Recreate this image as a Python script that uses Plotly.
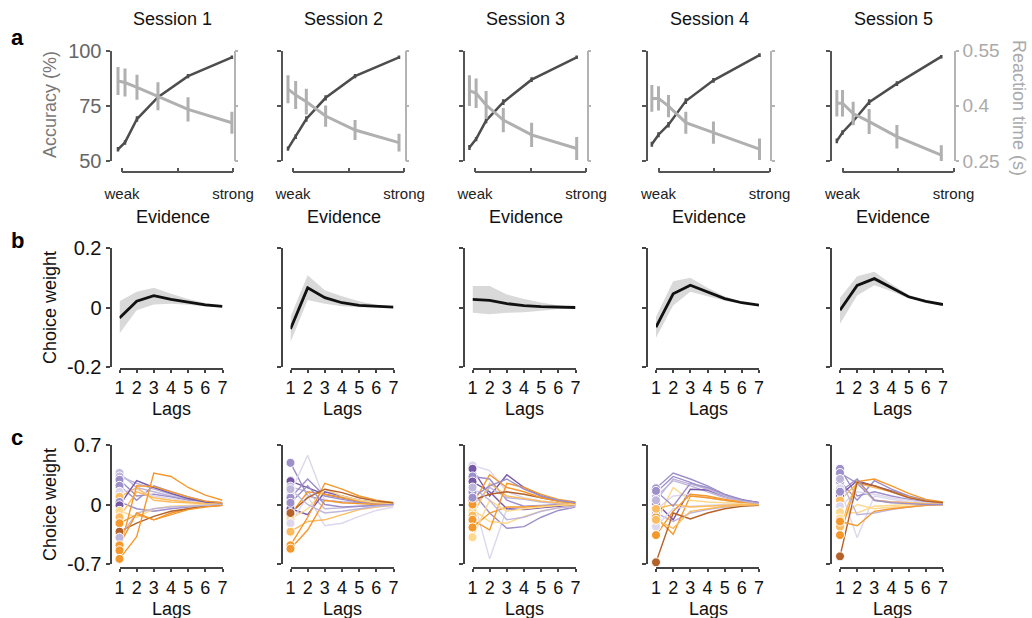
import plotly.graph_objects as go

W, H = 1032, 618
FONT = "Liberation Sans, Arial, Helvetica, sans-serif"

session_titles = ["Session 1", "Session 2", "Session 3", "Session 4", "Session 5"]
evidence_ticks = ["weak", "", "strong"]
lags = [1, 2, 3, 4, 5, 6, 7]

# ---------------- row a: accuracy / reaction time ----------------
evidence_s1 = [-0.036, 0.027, 0.135, 0.324, 0.595, 0.99]
evidence_s2 = [-0.045, 0.024, 0.12, 0.294, 0.559, 0.955]
evidence_s3 = [-0.05, 0.01, 0.10, 0.255, 0.51, 0.916]
evidence_s4 = [-0.06, 0.0, 0.09, 0.246, 0.495, 0.91]
evidence_s5 = [-0.051, 0.0, 0.096, 0.24, 0.49, 0.89]

accuracy_s1 = [55.3, 58.4, 69.0, 78.9, 88.4, 96.9]
accuracy_s2 = [55.6, 61.0, 69.0, 78.6, 88.4, 96.9]
accuracy_s3 = [56.1, 59.9, 68.3, 76.6, 86.8, 96.9]
accuracy_s4 = [57.6, 61.9, 66.4, 77.1, 86.5, 97.9]
accuracy_s5 = [59.1, 62.9, 68.0, 76.6, 85.0, 97.2]

accuracy_err_s1 = [1.0, 1.0, 1.2, 1.2, 1.0, 0.8]
accuracy_err_s2 = [1.0, 1.0, 1.2, 1.2, 1.0, 0.8]
accuracy_err_s3 = [1.1, 1.0, 1.2, 1.3, 1.1, 0.8]
accuracy_err_s4 = [1.1, 1.1, 1.2, 1.3, 1.1, 0.8]
accuracy_err_s5 = [1.1, 1.0, 1.2, 1.3, 1.1, 0.8]

rt_s1 = [0.467, 0.463, 0.450, 0.426, 0.390, 0.354]
rt_s2 = [0.445, 0.429, 0.411, 0.372, 0.334, 0.300]
rt_s3 = [0.441, 0.434, 0.402, 0.361, 0.321, 0.284]
rt_s4 = [0.420, 0.420, 0.399, 0.354, 0.327, 0.282]
rt_s5 = [0.407, 0.407, 0.379, 0.357, 0.316, 0.266]

rt_err_s1 = [0.038, 0.038, 0.034, 0.038, 0.033, 0.030]
rt_err_s2 = [0.038, 0.038, 0.035, 0.029, 0.027, 0.024]
rt_err_s3 = [0.042, 0.040, 0.038, 0.033, 0.033, 0.031]
rt_err_s4 = [0.036, 0.033, 0.030, 0.030, 0.030, 0.029]
rt_err_s5 = [0.036, 0.036, 0.032, 0.034, 0.032, 0.027]

# ---------------- row b: mean choice kernels ----------------
kernel_mean_s1 = [-0.034, 0.022, 0.041, 0.028, 0.019, 0.010, 0.005]
kernel_mean_s2 = [-0.071, 0.067, 0.034, 0.017, 0.008, 0.004, 0.002]
kernel_mean_s3 = [0.028, 0.025, 0.014, 0.007, 0.004, 0.002, 0.001]
kernel_mean_s4 = [-0.065, 0.047, 0.076, 0.054, 0.031, 0.017, 0.009]
kernel_mean_s5 = [-0.008, 0.075, 0.098, 0.067, 0.037, 0.022, 0.011]

kernel_lo_s1 = [-0.086, -0.008, 0.011, 0.014, 0.010, 0.004, 0.002]
kernel_lo_s2 = [-0.116, 0.026, 0.014, 0.005, 0.002, 0.0, 0.0]
kernel_lo_s3 = [-0.017, -0.022, -0.017, -0.015, -0.010, -0.004, -0.001]
kernel_lo_s4 = [-0.101, 0.008, 0.054, 0.039, 0.024, 0.013, 0.006]
kernel_lo_s5 = [-0.054, 0.041, 0.076, 0.056, 0.031, 0.019, 0.009]

kernel_hi_s1 = [0.022, 0.054, 0.067, 0.047, 0.030, 0.016, 0.008]
kernel_hi_s2 = [-0.030, 0.109, 0.059, 0.039, 0.022, 0.010, 0.004]
kernel_hi_s3 = [0.073, 0.073, 0.045, 0.030, 0.018, 0.008, 0.003]
kernel_hi_s4 = [-0.030, 0.089, 0.101, 0.067, 0.038, 0.021, 0.012]
kernel_hi_s5 = [0.034, 0.106, 0.121, 0.080, 0.043, 0.025, 0.013]

# ---------------- row c: individual choice kernels ----------------
palette = {
    "dp": "#7758a6", "mp": "#9d8fc9", "lp": "#bfb6dc", "vp": "#dcd7ed",
    "or": "#f5982c", "lo": "#fbbb5e", "pa": "#fdd88d", "br": "#b5622a",
}

indiv_col_s1 = ["lp", "lp", "mp", "mp", "vp", "lo", "mp", "dp", "pa", "lo", "or", "br", "lp", "or", "or", "or"]
indiv_w_s1 = [
    [0.37, 0.20, 0.15, 0.10, 0.06, 0.03, 0.01],
    [0.33, 0.25, 0.18, 0.12, 0.07, 0.03, 0.01],
    [0.29, 0.10, 0.12, 0.09, 0.05, 0.02, 0.01],
    [0.22, 0.05, 0.22, 0.15, 0.09, 0.04, 0.02],
    [0.15, 0.18, 0.10, 0.07, 0.04, 0.02, 0.01],
    [0.09, 0.20, 0.05, 0.03, 0.02, 0.01, 0.0],
    [0.03, -0.05, -0.08, -0.05, -0.03, -0.01, 0.0],
    [-0.01, 0.28, 0.20, 0.13, 0.07, 0.03, 0.01],
    [-0.075, -0.15, -0.05, -0.02, -0.01, 0.0, 0.0],
    [-0.15, 0.15, 0.08, 0.05, 0.03, 0.01, 0.0],
    [-0.22, -0.12, -0.18, -0.10, -0.05, -0.02, -0.01],
    [-0.32, -0.22, -0.14, -0.08, -0.05, -0.02, -0.01],
    [-0.39, -0.10, -0.05, -0.03, -0.02, -0.01, 0.0],
    [-0.48, -0.10, -0.18, -0.12, -0.06, -0.03, -0.01],
    [-0.54, 0.22, 0.21, 0.15, 0.09, 0.04, 0.02],
    [-0.64, -0.38, 0.37, 0.33, 0.20, 0.11, 0.05],
]

indiv_col_s2 = ["mp", "dp", "lp", "vp", "mp", "dp", "or", "pa", "vp", "lo", "or", "or", "br", "mp", "lp"]
indiv_w_s2 = [
    [0.49, 0.10, 0.05, 0.03, 0.02, 0.01, 0.0],
    [0.275, 0.20, 0.12, 0.08, 0.04, 0.02, 0.01],
    [0.21, 0.15, -0.05, -0.04, -0.02, -0.01, 0.0],
    [0.14, 0.58, 0.05, 0.02, 0.01, 0.0, 0.0],
    [0.08, 0.30, 0.10, 0.06, 0.03, 0.01, 0.0],
    [-0.05, -0.12, 0.15, 0.10, 0.05, 0.02, 0.01],
    [-0.12, 0.15, 0.12, 0.08, 0.04, 0.02, 0.01],
    [-0.17, -0.05, 0.18, 0.10, 0.05, 0.02, 0.01],
    [-0.22, 0.10, -0.25, -0.22, -0.14, -0.07, -0.03],
    [-0.32, -0.20, -0.18, -0.12, -0.06, -0.03, -0.01],
    [-0.48, -0.15, 0.25, 0.18, 0.10, 0.05, 0.02],
    [-0.52, -0.30, 0.05, 0.02, 0.01, 0.0, 0.0],
    [-0.10, 0.08, 0.18, 0.14, 0.08, 0.04, 0.02],
    [0.02, 0.22, 0.0, -0.03, -0.02, -0.01, 0.0],
    [0.18, 0.0, -0.10, -0.08, -0.05, -0.02, -0.01],
]

indiv_col_s3 = ["vp", "dp", "mp", "vp", "dp", "mp", "lp", "pa", "lo", "or", "or", "pa", "br", "or", "lp", "mp"]
indiv_w_s3 = [
    [0.46, 0.40, 0.15, 0.08, 0.04, 0.02, 0.01],
    [0.42, 0.10, 0.35, 0.20, 0.10, 0.05, 0.02],
    [0.33, 0.30, 0.05, -0.02, -0.01, 0.0, 0.0],
    [0.10, -0.64, -0.05, -0.03, -0.02, -0.01, 0.0],
    [0.27, 0.15, -0.05, -0.06, -0.04, -0.02, -0.01],
    [0.15, -0.10, -0.28, -0.26, -0.15, -0.07, -0.03],
    [-0.02, 0.20, 0.08, 0.06, 0.03, 0.01, 0.0],
    [-0.06, -0.20, -0.22, -0.14, -0.08, -0.04, -0.02],
    [-0.13, 0.25, 0.10, 0.07, 0.04, 0.02, 0.01],
    [-0.18, -0.30, 0.25, 0.20, 0.12, 0.06, 0.03],
    [-0.27, -0.10, -0.03, -0.03, -0.02, -0.01, 0.0],
    [-0.385, 0.05, -0.08, -0.05, -0.03, -0.01, 0.0],
    [0.05, 0.12, 0.15, 0.12, 0.08, 0.04, 0.02],
    [0.0, 0.35, 0.20, 0.15, 0.08, 0.04, 0.02],
    [0.20, 0.05, -0.18, -0.15, -0.08, -0.04, -0.02],
    [0.08, 0.22, 0.30, 0.18, 0.10, 0.05, 0.02],
]

indiv_col_s4 = ["mp", "mp", "lp", "dp", "vp", "lp", "or", "pa", "vp", "or", "br", "lo", "mp", "lo", "lp"]
indiv_w_s4 = [
    [0.19, 0.37, 0.30, 0.22, 0.12, 0.06, 0.02],
    [0.14, 0.33, 0.26, 0.18, 0.10, 0.05, 0.02],
    [0.09, 0.28, 0.22, 0.15, 0.08, 0.04, 0.01],
    [0.02, -0.18, 0.18, 0.17, 0.10, 0.05, 0.02],
    [-0.06, 0.10, 0.12, 0.08, 0.05, 0.02, 0.01],
    [-0.10, -0.20, -0.10, -0.06, -0.03, -0.01, 0.0],
    [-0.15, -0.35, 0.10, 0.08, 0.05, 0.02, 0.01],
    [-0.21, 0.20, 0.05, 0.03, 0.02, 0.01, 0.0],
    [-0.26, -0.05, -0.02, -0.01, 0.0, 0.0, 0.0],
    [-0.36, -0.08, 0.12, 0.10, 0.06, 0.03, 0.01],
    [-0.68, -0.10, -0.17, -0.10, -0.05, -0.02, -0.01],
    [-0.05, 0.0, -0.03, -0.02, -0.01, 0.0, 0.0],
    [0.16, -0.02, 0.25, 0.20, 0.12, 0.05, 0.02],
    [-0.18, -0.28, -0.08, -0.05, -0.02, -0.01, 0.0],
    [0.05, 0.30, 0.24, 0.18, 0.10, 0.04, 0.01],
]

indiv_col_s5 = ["mp", "mp", "mp", "vp", "dp", "lo", "vp", "pa", "pa", "lo", "or", "br", "lp", "or", "mp"]
indiv_w_s5 = [
    [0.42, 0.10, 0.15, 0.10, 0.06, 0.03, 0.01],
    [0.37, 0.25, 0.05, 0.03, 0.02, 0.01, 0.0],
    [0.27, 0.05, 0.28, 0.18, 0.10, 0.05, 0.02],
    [0.19, -0.39, 0.10, 0.06, 0.03, 0.01, 0.0],
    [0.11, 0.28, 0.22, 0.16, 0.09, 0.04, 0.02],
    [0.05, 0.25, 0.20, 0.15, 0.09, 0.04, 0.02],
    [-0.02, 0.15, 0.12, 0.08, 0.05, 0.02, 0.01],
    [-0.09, -0.10, -0.02, -0.01, 0.0, 0.0, 0.0],
    [-0.165, 0.0, -0.05, -0.03, -0.02, -0.01, 0.0],
    [-0.26, 0.28, 0.05, 0.03, 0.02, 0.01, 0.0],
    [-0.36, 0.27, 0.30, 0.22, 0.13, 0.06, 0.03],
    [-0.61, 0.26, 0.22, 0.15, 0.08, 0.04, 0.02],
    [0.30, -0.12, -0.10, -0.06, -0.03, -0.01, 0.0],
    [-0.20, -0.25, -0.08, -0.05, -0.03, -0.01, 0.0],
    [0.15, 0.30, 0.05, 0.02, 0.01, 0.0, 0.0],
]

evidence = [evidence_s1, evidence_s2, evidence_s3, evidence_s4, evidence_s5]
accuracy = [accuracy_s1, accuracy_s2, accuracy_s3, accuracy_s4, accuracy_s5]
accuracy_err = [accuracy_err_s1, accuracy_err_s2, accuracy_err_s3, accuracy_err_s4, accuracy_err_s5]
rt = [rt_s1, rt_s2, rt_s3, rt_s4, rt_s5]
rt_err = [rt_err_s1, rt_err_s2, rt_err_s3, rt_err_s4, rt_err_s5]
k_mean = [kernel_mean_s1, kernel_mean_s2, kernel_mean_s3, kernel_mean_s4, kernel_mean_s5]
k_lo = [kernel_lo_s1, kernel_lo_s2, kernel_lo_s3, kernel_lo_s4, kernel_lo_s5]
k_hi = [kernel_hi_s1, kernel_hi_s2, kernel_hi_s3, kernel_hi_s4, kernel_hi_s5]
indiv_w = [indiv_w_s1, indiv_w_s2, indiv_w_s3, indiv_w_s4, indiv_w_s5]
indiv_col = [indiv_col_s1, indiv_col_s2, indiv_col_s3, indiv_col_s4, indiv_col_s5]

# ---------------- layout geometry (pixels) ----------------
axis_left = [110.5, 281.5, 463.5, 647.0, 831.0]


def fx(p):
    return p / W


def fy(p):
    return 1 - p / H


def ax_name(kind, n):
    return f"{kind}axis" if n == 1 else f"{kind}axis{n}"


def ref(kind, n):
    return kind if n == 1 else f"{kind}{n}"


ACC_COL = "#4d4d4d"
RT_COL = "#b0b0b0"
AX_COL = "#444444"

fig = go.Figure()
layout = {}
annotations = []
shapes = []

common = dict(showgrid=False, zeroline=False, fixedrange=True, automargin=False)

for i in range(5):
    L = axis_left[i]
    xa, yl, yr = i + 1, i + 1, i + 6
    xb, yb = i + 6, i + 11
    xc, yc = i + 11, i + 16

    # ----- row a -----
    layout[ax_name("x", xa)] = dict(
        domain=[fx(L), fx(L + 124)], range=[-11.5 / 111, 112.5 / 111],
        anchor="free", position=fy(172), showline=False,
        ticks="inside", ticklen=4, tickwidth=2, tickcolor="#555",
        tickvals=[0, 0.5, 1], ticktext=evidence_ticks,
        tickfont=dict(size=15, color="#222", family=FONT), ticklabelstandoff=11, **common)
    layout[ax_name("y", yl)] = dict(
        domain=[fy(161), fy(50.5)], range=[50, 100], anchor="free", position=fx(L),
        showline=True, linecolor="#555", linewidth=2, ticks="outside", ticklen=4,
        tickwidth=2, tickcolor="#555", tickvals=[50, 75, 100], showticklabels=(i == 0),
        tickfont=dict(size=20, color="#666", family=FONT), **common)
    layout[ax_name("y", yr)] = dict(
        range=[0.25, 0.55], overlaying=ref("y", yl), side="right", anchor="free",
        position=fx(L + 124), showline=True, linecolor="#b3b3b3", linewidth=1.5,
        ticks="outside", ticklen=3, tickwidth=1.5, tickcolor="#b3b3b3",
        tickvals=[0.25, 0.4, 0.55], ticktext=["0.25", "0.4", "0.55"],
        showticklabels=(i == 4), tickfont=dict(size=19, color="#aaaaaa", family=FONT), **common)
    shapes.append(dict(type="line", xref=ref("x", xa), yref="paper", x0=0, x1=1,
                       y0=fy(172), y1=fy(172), line=dict(color="#555", width=2)))

    fig.add_trace(go.Scatter(
        x=evidence[i], y=rt[i], mode="lines", xaxis=ref("x", xa), yaxis=ref("y", yr),
        line=dict(color=RT_COL, width=3),
        error_y=dict(type="data", array=rt_err[i], thickness=3, width=0, color=RT_COL),
        showlegend=False, hoverinfo="skip"))
    fig.add_trace(go.Scatter(
        x=evidence[i], y=accuracy[i], mode="lines", xaxis=ref("x", xa), yaxis=ref("y", yl),
        line=dict(color=ACC_COL, width=2.5),
        error_y=dict(type="data", array=accuracy_err[i], thickness=2.5, width=0, color=ACC_COL),
        showlegend=False, hoverinfo="skip"))

    annotations.append(dict(text=session_titles[i], x=fx(L + 62), y=fy(19),
                            font=dict(size=18, color="#111", family=FONT)))
    annotations.append(dict(text="Evidence", x=fx(L + 62), y=fy(217),
                            font=dict(size=18, color="#111", family=FONT)))

    # ----- row b -----
    layout[ax_name("x", xb)] = dict(
        domain=[fx(L + 9), fx(L + 112)], range=[1, 7], anchor="free", position=fy(368.5),
        showline=True, linecolor=AX_COL, linewidth=2, ticks="outside", ticklen=3, tickwidth=2,
        tickcolor=AX_COL, tickvals=lags, tickfont=dict(size=18, color="#111", family=FONT), **common)
    layout[ax_name("y", yb)] = dict(
        domain=[fy(367.3), fy(248.3)], range=[-0.2, 0.2], anchor="free", position=fx(L),
        showline=True, linecolor=AX_COL, linewidth=2, ticks="outside", ticklen=4, tickwidth=2,
        tickcolor=AX_COL, tickvals=[-0.2, 0, 0.2], ticktext=["-0.2", "0", "0.2"],
        showticklabels=(i == 0), tickfont=dict(size=20, color="#111", family=FONT), **common)
    fig.add_trace(go.Scatter(x=lags, y=k_lo[i], mode="lines", line=dict(width=0, color="#d9d9d9"),
                             xaxis=ref("x", xb), yaxis=ref("y", yb), showlegend=False, hoverinfo="skip"))
    fig.add_trace(go.Scatter(x=lags, y=k_hi[i], mode="lines", line=dict(width=0, color="#d9d9d9"),
                             fill="tonexty", fillcolor="#d9d9d9",
                             xaxis=ref("x", xb), yaxis=ref("y", yb), showlegend=False, hoverinfo="skip"))
    fig.add_trace(go.Scatter(x=lags, y=k_mean[i], mode="lines", line=dict(width=2.8, color="#111"),
                             xaxis=ref("x", xb), yaxis=ref("y", yb), showlegend=False, hoverinfo="skip"))
    annotations.append(dict(text="Lags", x=fx(L + 61), y=fy(409),
                            font=dict(size=18, color="#111", family=FONT)))

    # ----- row c -----
    layout[ax_name("x", xc)] = dict(
        domain=[fx(L + 9), fx(L + 112)], range=[1, 7], anchor="free", position=fy(568),
        showline=True, linecolor=AX_COL, linewidth=2, ticks="outside", ticklen=3, tickwidth=2,
        tickcolor=AX_COL, tickvals=lags, tickfont=dict(size=18, color="#111", family=FONT), **common)
    layout[ax_name("y", yc)] = dict(
        domain=[fy(564), fy(445)], range=[-0.7, 0.7], anchor="free", position=fx(L),
        showline=True, linecolor=AX_COL, linewidth=2, ticks="outside", ticklen=4, tickwidth=2,
        tickcolor=AX_COL, tickvals=[-0.7, 0, 0.7], ticktext=["-0.7", "0", "0.7"],
        showticklabels=(i == 0), tickfont=dict(size=20, color="#111", family=FONT), **common)
    for w, c in zip(indiv_w[i], indiv_col[i]):
        fig.add_trace(go.Scatter(x=lags, y=w, mode="lines", line=dict(width=1.4, color=palette[c]),
                                 xaxis=ref("x", xc), yaxis=ref("y", yc), showlegend=False,
                                 hoverinfo="skip"))
    fig.add_trace(go.Scatter(
        x=[1] * len(indiv_w[i]), y=[w[0] for w in indiv_w[i]], mode="markers",
        marker=dict(size=9, color=[palette[c] for c in indiv_col[i]], line=dict(color="white", width=1)),
        cliponaxis=False, xaxis=ref("x", xc), yaxis=ref("y", yc), showlegend=False, hoverinfo="skip"))
    annotations.append(dict(text="Lags", x=fx(L + 61), y=fy(609),
                            font=dict(size=18, color="#111", family=FONT)))

# axis titles and panel letters
annotations += [
    dict(text="Accuracy (%)", x=fx(50), y=fy(105), textangle=-90, font=dict(size=18, color="#777", family=FONT)),
    dict(text="Reaction time (s)", x=fx(1019), y=fy(108), textangle=90, font=dict(size=18, color="#aaaaaa", family=FONT)),
    dict(text="Choice weight", x=fx(50), y=fy(308), textangle=-90, font=dict(size=18, color="#111", family=FONT)),
    dict(text="Choice weight", x=fx(50), y=fy(505), textangle=-90, font=dict(size=18, color="#111", family=FONT)),
    dict(text="<b>a</b>", x=fx(17), y=fy(37), font=dict(size=22, color="#000", family=FONT)),
    dict(text="<b>b</b>", x=fx(17), y=fy(241), font=dict(size=22, color="#000", family=FONT)),
    dict(text="<b>c</b>", x=fx(17), y=fy(437), font=dict(size=22, color="#000", family=FONT)),
]
for a in annotations:
    a.setdefault("xref", "paper")
    a.setdefault("yref", "paper")
    a.setdefault("showarrow", False)
    a.setdefault("xanchor", "center")
    a.setdefault("yanchor", "middle")

fig.update_layout(
    width=W, height=H, margin=dict(l=0, r=0, t=0, b=0, autoexpand=False),
    paper_bgcolor="white", plot_bgcolor="white",
    font=dict(family=FONT), showlegend=False,
    annotations=annotations, shapes=shapes, **layout)

fig.write_html("out.html")
